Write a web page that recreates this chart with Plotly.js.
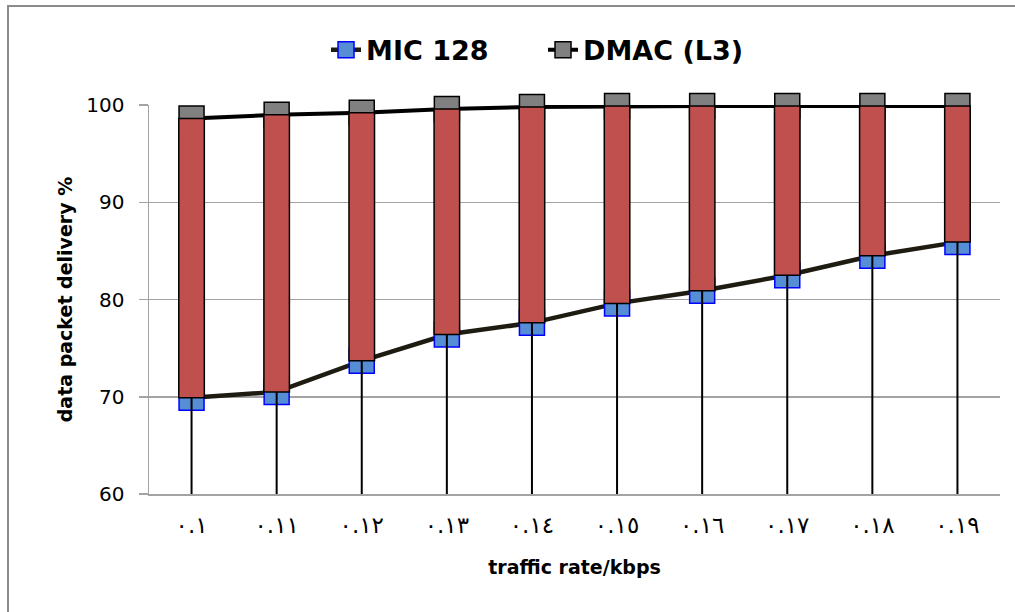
<!DOCTYPE html>
<html>
<head>
<meta charset="utf-8">
<script src="https://cdn.plot.ly/plotly-3.0.1.min.js"></script>
<style>
  html, body { margin: 0; padding: 0; background: #fff; overflow: hidden; }
  #wrap { position: relative; width: 1015px; height: 612px; overflow: hidden; }
  #chart { position: absolute; left: 0; top: 0; width: 1015px; height: 612px; }
  #frame { position: absolute; left: 7px; top: 5px; width: 1100px; height: 700px;
           border-left: 2px solid #8C8C8C; border-top: 2px solid #8C8C8C; pointer-events: none; }
</style>
</head>
<body>
<div id="wrap">
  <div id="chart"></div>
  <div id="frame"></div>
</div>
<script>
// ---- data ----
const categories = ['٠.١', '٠.١١', '٠.١٢', '٠.١٣', '٠.١٤', '٠.١٥', '٠.١٦', '٠.١٧', '٠.١٨', '٠.١٩'];
const mic128 = [69.9, 70.5, 73.7, 76.4, 77.6, 79.6, 80.9, 82.5, 84.5, 85.9];
const dmacL3 = [98.6, 99.0, 99.2, 99.6, 99.8, 99.9, 99.9, 99.9, 99.9, 99.9];
const seriesNames = ['MIC 128', 'DMAC (L3)'];
const yTickValues = [60, 70, 80, 90, 100];
const yAxisTitle = 'data packet delivery %';
const xAxisTitle = 'traffic rate/kbps';

// ---- derived ----
const yMin = yTickValues[0];
const yMax = yTickValues[yTickValues.length - 1];
const dropX = [], dropY = [];
categories.forEach((c, i) => { dropX.push(c, c, null); dropY.push(yMin, mic128[i], null); });
const barHeights = dmacL3.map((v, i) => v - mic128[i]);

const fontFam = 'DejaVu Sans, sans-serif';
const gray = '#A3A3A3';

const traces = [
  {
    type: 'scatter', mode: 'lines+markers', name: seriesNames[0],
    x: categories, y: mic128, xaxis: 'x', yaxis: 'y',
    line: { color: '#1E1C11', width: 4.5 },
    marker: { symbol: 'square', size: 25, color: '#558ED5', line: { color: '#0000FF', width: 1.5 } },
    cliponaxis: false, hoverinfo: 'x+y'
  },
  {
    type: 'scatter', mode: 'lines+markers', name: seriesNames[1],
    x: categories, y: dmacL3, xaxis: 'x', yaxis: 'y',
    line: { color: '#000000', width: 4 },
    marker: { symbol: 'square', size: 25, color: '#808080', line: { color: '#000000', width: 1.5 } },
    cliponaxis: false, hoverinfo: 'x+y'
  },
  {
    type: 'scatter', mode: 'lines', showlegend: false,
    x: dropX, y: dropY, xaxis: 'x', yaxis: 'y',
    line: { color: '#000000', width: 2 }, hoverinfo: 'skip'
  },
  {
    type: 'bar', showlegend: false,
    x: categories, y: barHeights, base: mic128, xaxis: 'x2', yaxis: 'y',
    width: 0.3,
    marker: { color: '#C0504D', line: { color: '#000000', width: 1.5 } },
    hoverinfo: 'skip'
  }
];

const layout = {
  width: 1015, height: 612,
  margin: { l: 149, r: 15, t: 105, b: 118 },
  paper_bgcolor: '#ffffff', plot_bgcolor: '#ffffff',
  font: { family: fontFam, color: '#000000' },
  showlegend: true,
  legend: {
    orientation: 'h', x: 0.463, xanchor: 'center', y: 1.141, yanchor: 'middle',
    entrywidth: 172, entrywidthmode: 'pixels',
    font: { family: fontFam, size: 27, weight: 'bold', color: '#000' },
    bgcolor: 'rgba(0,0,0,0)', itemclick: false
  },
  xaxis: {
    type: 'category', range: [-0.5, categories.length - 0.5],
    showline: true, linecolor: gray, linewidth: 1.5,
    showgrid: false, zeroline: false, ticks: '',
    tickfont: { family: fontFam, size: 23, color: '#000' },
    ticklabelstandoff: 10,
    title: { text: xAxisTitle, font: { family: fontFam, size: 19, weight: 'bold', color: '#000' }, standoff: 23 }
  },
  xaxis2: {
    type: 'category', overlaying: 'x', range: [-0.5, categories.length - 0.5],
    showline: false, showgrid: false, zeroline: false, showticklabels: false, ticks: ''
  },
  yaxis: {
    range: [yMin, yMax], tickvals: yTickValues,
    showline: true, linecolor: gray, linewidth: 1.5,
    showgrid: true, gridcolor: gray, gridwidth: 1.5, zeroline: false,
    ticks: 'outside', ticklen: 9, tickcolor: gray, tickwidth: 1.5,
    tickfont: { family: fontFam, size: 20, color: '#000' },
    ticklabelstandoff: 10,
    title: { text: yAxisTitle, font: { family: fontFam, size: 19, weight: 'bold', color: '#000' }, standoff: 8 }
  }
};

Plotly.newPlot('chart', traces, layout, { displayModeBar: false, staticPlot: true });
</script>
</body>
</html>
